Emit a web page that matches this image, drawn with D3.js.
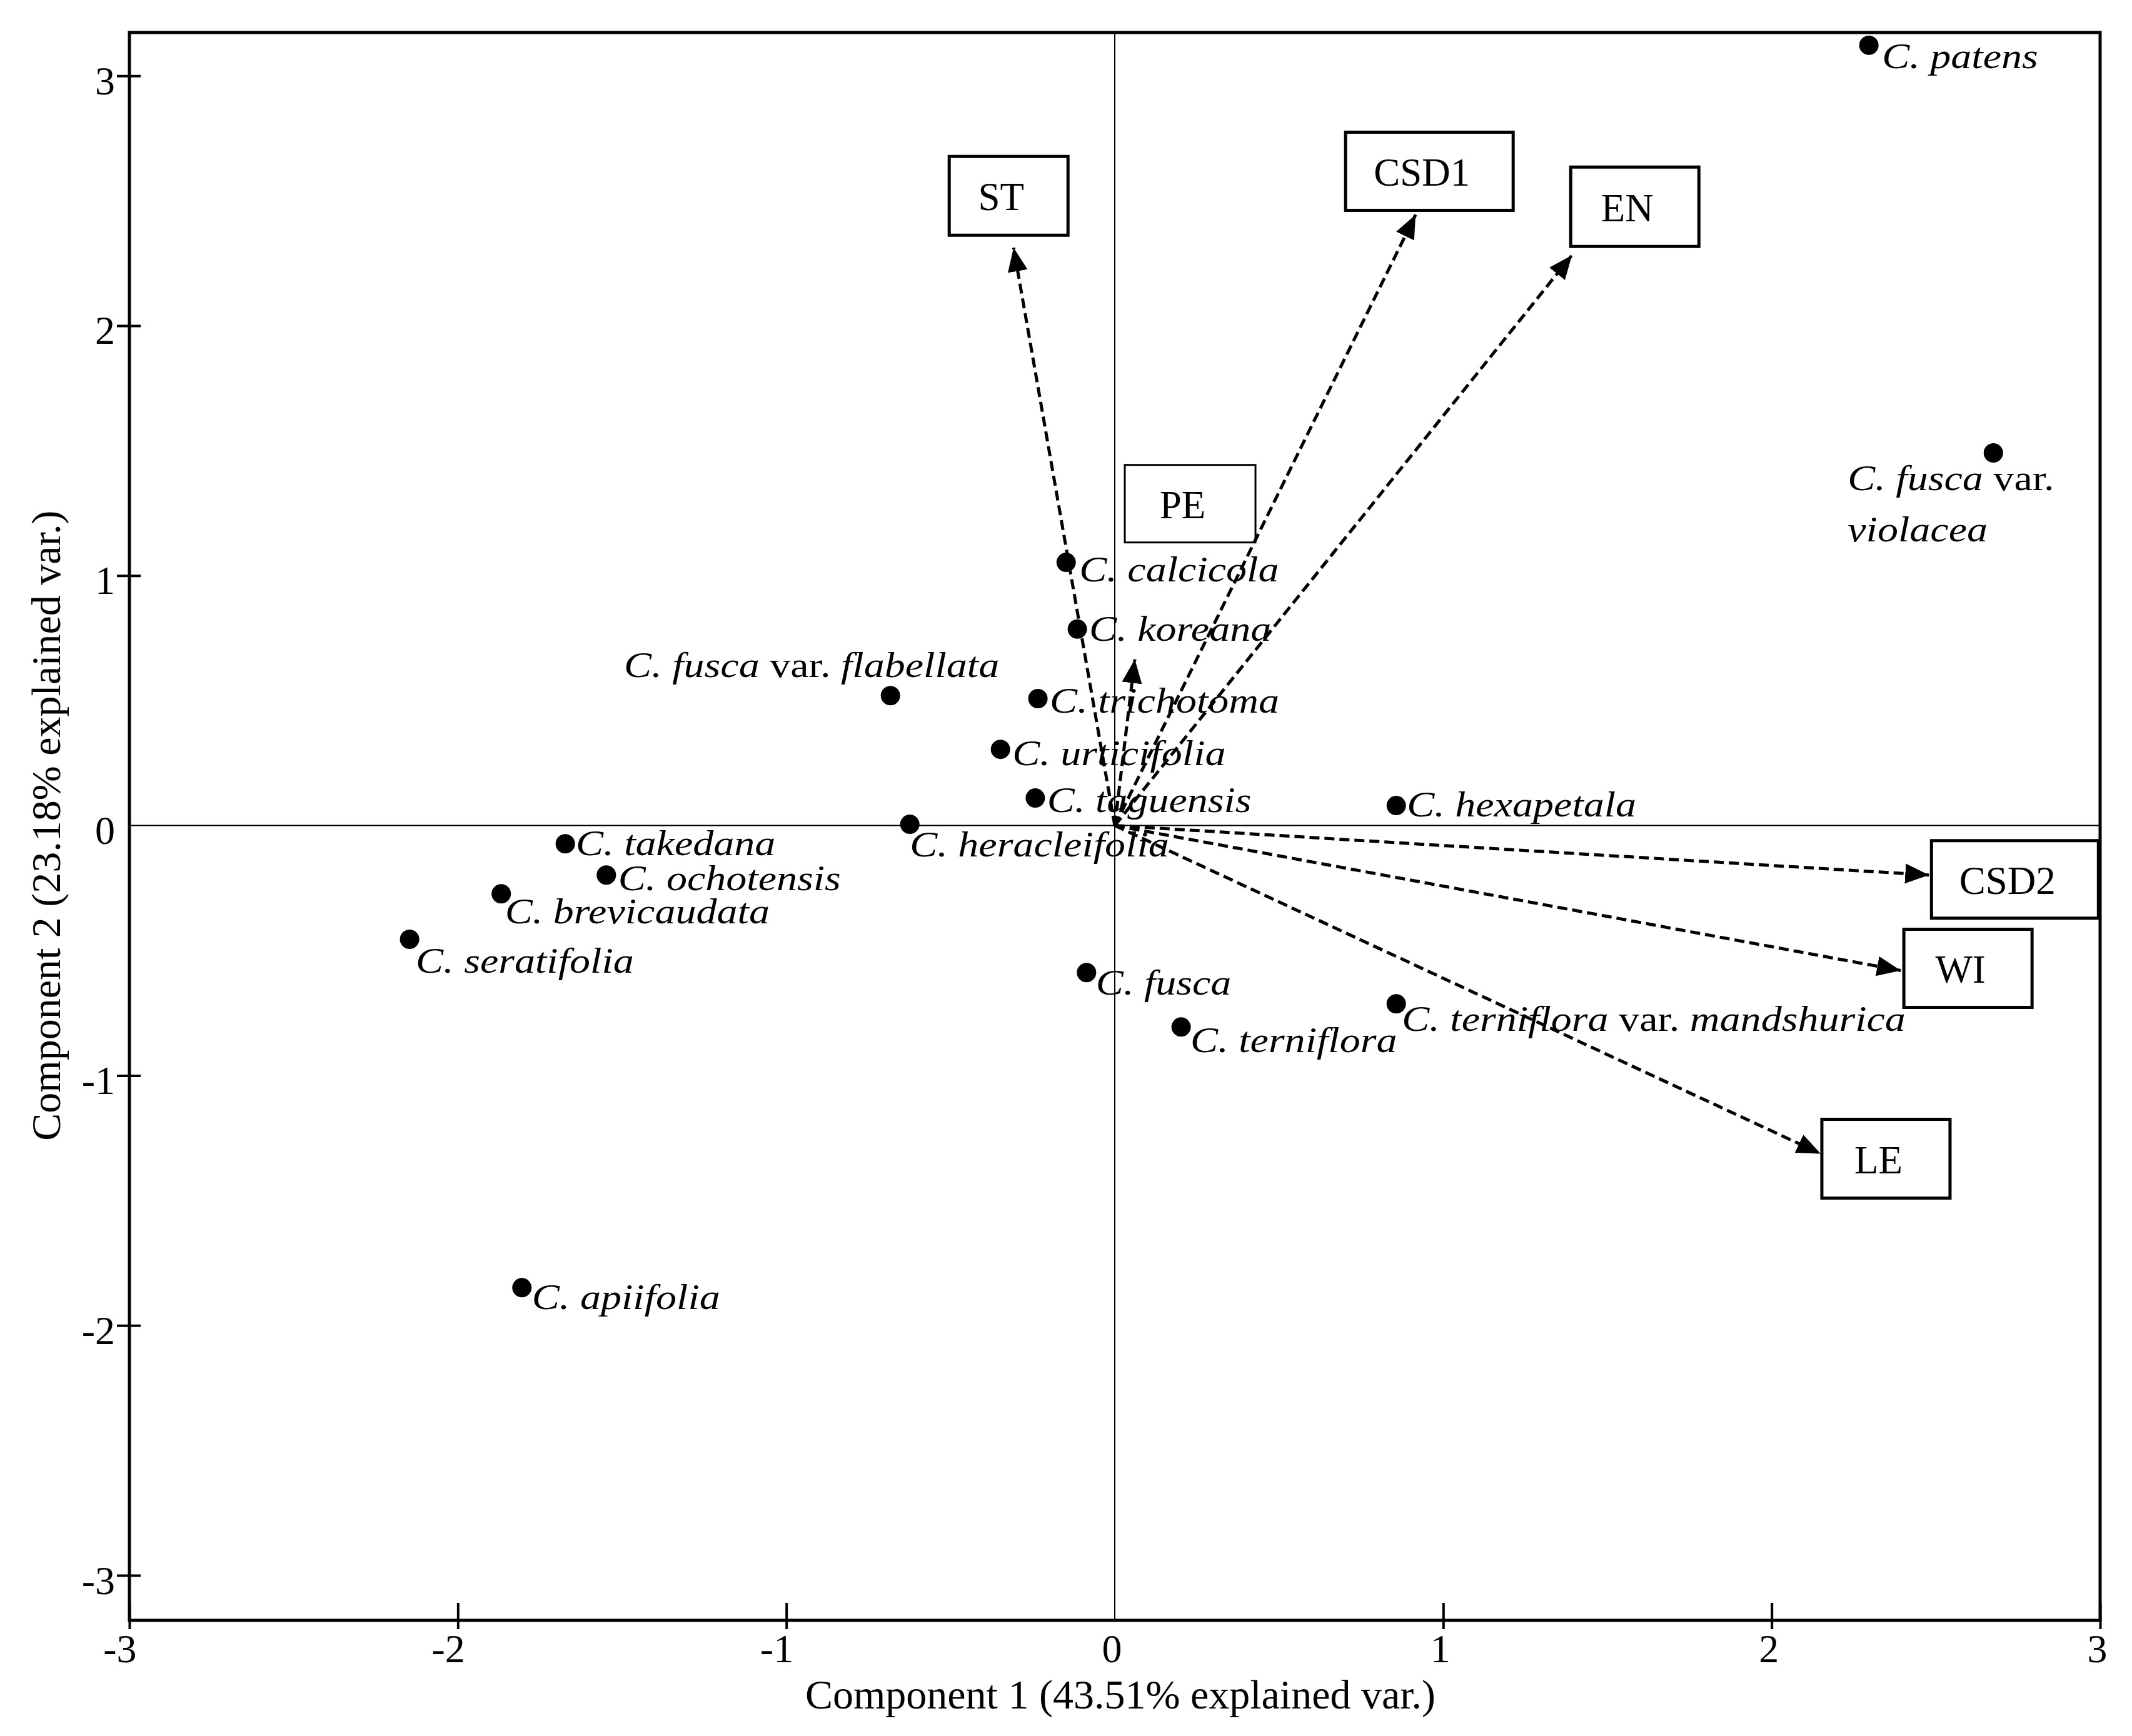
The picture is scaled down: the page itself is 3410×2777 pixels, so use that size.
<!DOCTYPE html>
<html>
<head>
<meta charset="utf-8">
<script src="https://cdn.jsdelivr.net/npm/d3@7"></script>
<style>
  html, body { margin: 0; padding: 0; background: #fff; }
  svg { display: block; }
  text { font-family: "Liberation Serif", "Times New Roman", serif; fill: #000; }
</style>
</head>
<body>
<svg id="chart"></svg>
<script>
// ---------- data ----------
// species scores on the first two components
const species = [
  "C. patens", "C. fusca var. violacea", "C. calcicola", "C. koreana",
  "C. fusca var. flabellata", "C. trichotoma", "C. urticifolia", "C. taguensis",
  "C. heracleifolia", "C. hexapetala", "C. takedana", "C. ochotensis",
  "C. brevicaudata", "C. seratifolia", "C. fusca", "C. terniflora",
  "C. terniflora var. mandshurica", "C. apiifolia"
];
const pc1 = [2.296, 2.675, -0.148, -0.114, -0.683, -0.234, -0.348, -0.242, -0.624,
             0.857, -1.673, -1.548, -1.868, -2.147, -0.086, 0.202, 0.857, -1.805];
const pc2 = [3.122, 1.491, 1.053, 0.786, 0.520, 0.508, 0.305, 0.110, 0.005,
             0.080, -0.073, -0.198, -0.273, -0.455, -0.588, -0.806, -0.713, -1.849];

// variable loadings (arrow tips)
const variables = ["ST", "CSD1", "EN", "PE", "CSD2", "WI", "LE"];
const load1 = [-0.308, 0.916, 1.392, 0.061, 2.479, 2.393, 2.149];
const load2 = [2.312, 2.444, 2.282, 0.665, -0.198, -0.580, -1.313];

const xTicks = [-3, -2, -1, 0, 1, 2, 3];
const yTicks = [-3, -2, -1, 0, 1, 2, 3];
const xTitle = "Component 1 (43.51% explained var.)";
const yTitle = "Component 2 (23.18% explained var.)";

// ---------- placement (pixels relative to the mark) ----------
// [dx, dy, anchor, wrapAfterWord, secondLineDy]
const labelPlacement = [
  [21, 37, "start"], [-233, 60, "start", 3, 142], [21, 30, "start"], [19, 19, "start"],
  [174, -30, "end"], [19, 23, "start"], [19, 25, "start"], [19, 22, "start"],
  [0, 51, "start"], [17, 17, "start"], [17, 18, "start"], [19, 24, "start"],
  [6, 47, "start"], [10, 53, "start"], [15, 35, "start"], [15, 40, "start"],
  [9, 43, "start"], [16, 34, "start"]
];
// [dx, dy, width, height, strokeWidth] of the box around each variable name
const boxPlacement = [
  [-103, -146, 190, 126, 5], [-112, -132, 268, 125, 5], [-2, -141, 205, 127, 5],
  [-16, -311, 209, 124, 3], [4, -55, 267, 124, 5], [5, -66, 205, 125, 5],
  [2, -55, 205, 126, 5]
];

// ---------- setup ----------
const W = 3410, H = 2777;
const plot = { left: 207, right: 3359, top: 52, bottom: 2592 };

const svg = d3.select("#chart").attr("width", W).attr("height", H);
svg.append("rect").attr("width", W).attr("height", H).attr("fill", "#fff");

const x = d3.scaleLinear().domain([-3, 3]).range([plot.left, plot.right]);
const y = d3.scaleLinear().domain([-3.18, 3.173]).range([plot.bottom, plot.top]);

// arrow head
svg.append("defs").append("marker")
  .attr("id", "head")
  .attr("markerUnits", "userSpaceOnUse")
  .attr("markerWidth", 42).attr("markerHeight", 34)
  .attr("refX", 38).attr("refY", 16)
  .attr("orient", "auto")
  .append("path")
  .attr("d", "M0,0 L38,16 L0,32 Z")
  .attr("fill", "#000");

// ---------- zero lines ----------
svg.append("line")
  .attr("x1", plot.left).attr("x2", plot.right)
  .attr("y1", y(0)).attr("y2", y(0))
  .attr("stroke", "#000").attr("stroke-width", 2);
svg.append("line")
  .attr("x1", x(0)).attr("x2", x(0))
  .attr("y1", plot.top).attr("y2", plot.bottom)
  .attr("stroke", "#000").attr("stroke-width", 2);

// ---------- axes ----------
const xAxis = svg.append("g")
  .attr("transform", `translate(0,${plot.bottom})`)
  .call(d3.axisBottom(x).tickValues(xTicks).tickFormat(d => String(d)).tickSize(14));
xAxis.select(".domain").remove();
xAxis.selectAll(".tick line")
  .attr("y1", -28).attr("y2", 14)
  .attr("stroke-width", 4)
  .attr("display", d => d === 0 ? "none" : null);
xAxis.selectAll(".tick text")
  .attr("font-family", "Liberation Serif").attr("font-size", 64)
  .attr("text-anchor", "end")
  .attr("x", 11).attr("y", 67).attr("dy", null);

const yAxis = svg.append("g")
  .attr("transform", `translate(${plot.left},0)`)
  .call(d3.axisLeft(y).tickValues(yTicks).tickFormat(d => String(d)).tickSize(20));
yAxis.select(".domain").remove();
yAxis.selectAll(".tick line")
  .attr("x1", 18).attr("x2", -20)
  .attr("stroke-width", 4)
  .attr("display", d => d === 0 ? "none" : null);
yAxis.selectAll(".tick text")
  .attr("font-family", "Liberation Serif").attr("font-size", 64)
  .attr("text-anchor", "end")
  .attr("x", -23).attr("y", 29).attr("dy", null);

// frame
svg.append("rect")
  .attr("x", plot.left).attr("y", plot.top)
  .attr("width", plot.right - plot.left).attr("height", plot.bottom - plot.top)
  .attr("fill", "none").attr("stroke", "#000").attr("stroke-width", 5);

// axis titles
svg.append("text")
  .attr("x", 1792).attr("y", 2733)
  .attr("text-anchor", "middle").attr("font-size", 66)
  .text(xTitle);
svg.append("text")
  .attr("transform", `translate(96,${y(0)}) rotate(-90)`)
  .attr("text-anchor", "middle").attr("font-size", 66)
  .text(yTitle);

// ---------- loading arrows ----------
svg.append("g").selectAll("line")
  .data(variables)
  .join("line")
  .attr("x1", x(0)).attr("y1", y(0))
  .attr("x2", (d, i) => x(load1[i]))
  .attr("y2", (d, i) => y(load2[i]))
  .attr("stroke", "#000")
  .attr("stroke-width", 5)
  .attr("stroke-dasharray", "16,8")
  .attr("marker-end", "url(#head)");

// ---------- species points ----------
svg.append("g").selectAll("circle")
  .data(species)
  .join("circle")
  .attr("cx", (d, i) => x(pc1[i]))
  .attr("cy", (d, i) => y(pc2[i]))
  .attr("r", 15.5)
  .attr("fill", "#000");

// species labels: italic names, roman "var."
const labelG = svg.append("g").selectAll("g")
  .data(species)
  .join("g")
  .attr("transform", (d, i) => {
    const p = labelPlacement[i];
    return `translate(${x(pc1[i]) + p[0]},${y(pc2[i]) + p[1]}) scale(1.18,1)`;
  });

labelG.each(function (name, i) {
  const p = labelPlacement[i];
  const words = name.split(" ");
  const lines = p[3] ? [words.slice(0, p[3]), words.slice(p[3])] : [words];
  lines.forEach((ws, li) => {
    const t = d3.select(this).append("text")
      .attr("font-size", 56)
      .attr("text-anchor", p[2])
      .attr("y", li === 0 ? 0 : p[4] - p[1]);
    ws.forEach((w, wi) => {
      t.append("tspan")
        .attr("font-style", w === "var." ? "normal" : "italic")
        .text((wi > 0 ? " " : "") + w);
    });
  });
});

// ---------- variable boxes ----------
const boxG = svg.append("g").selectAll("g")
  .data(variables)
  .join("g")
  .attr("transform", (d, i) => {
    const b = boxPlacement[i];
    return `translate(${x(load1[i]) + b[0]},${y(load2[i]) + b[1]})`;
  });

boxG.append("rect")
  .attr("width", (d, i) => boxPlacement[i][2])
  .attr("height", (d, i) => boxPlacement[i][3])
  .attr("fill", "none")
  .attr("stroke", "#000")
  .attr("stroke-width", (d, i) => boxPlacement[i][4]);

boxG.append("text")
  .attr("x", (d, i) => boxPlacement[i][2] / 2 - 12)
  .attr("y", (d, i) => boxPlacement[i][3] / 2 + 23)
  .attr("text-anchor", "middle")
  .attr("font-size", 63)
  .text(d => d);
</script>
</body>
</html>
